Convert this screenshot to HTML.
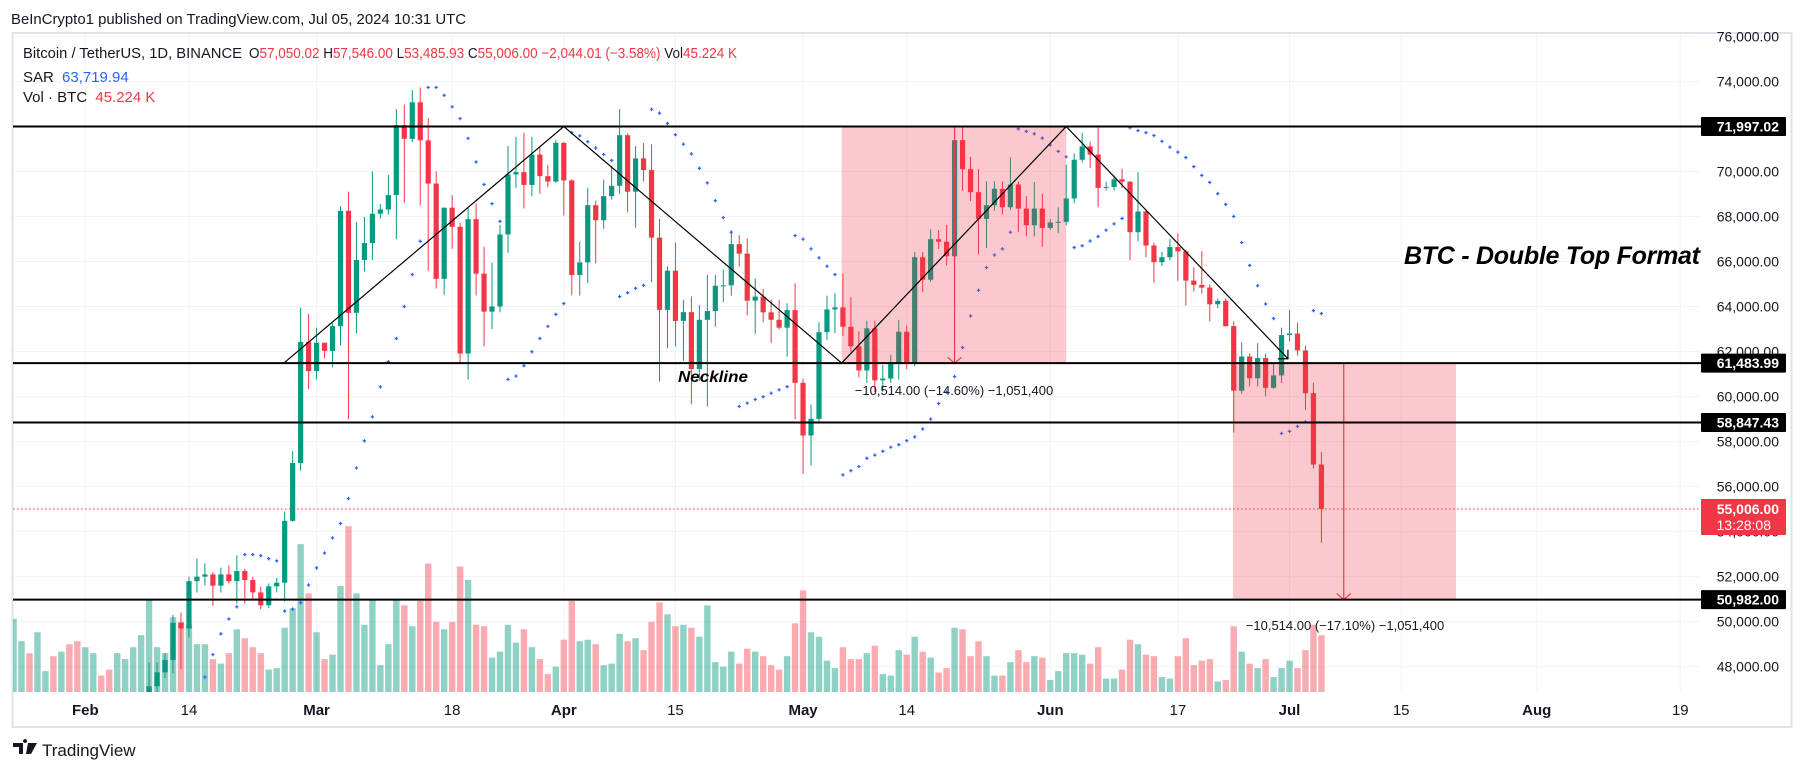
<!DOCTYPE html>
<html><head><meta charset="utf-8"><title>BTC Double Top</title>
<style>
html,body{margin:0;padding:0;background:#fff;width:1805px;height:771px;overflow:hidden;}
svg{display:block;font-family:"Liberation Sans",sans-serif;}
</style></head>
<body>
<svg id="chart" width="1805" height="771" viewBox="0 0 1805 771" xmlns="http://www.w3.org/2000/svg">
  <rect x="0" y="0" width="1805" height="771" fill="#ffffff"/>
  <text x="11" y="24" font-size="15" fill="#131722" textLength="455" lengthAdjust="spacingAndGlyphs">BeInCrypto1 published on TradingView.com, Jul 05, 2024 10:31 UTC</text>
  <rect x="12.5" y="33" width="1779" height="694" fill="none" stroke="#e0e3eb" stroke-width="2"/>
  <defs><clipPath id="plotclip"><rect x="13" y="34" width="1686" height="658"/></clipPath></defs>
  <g id="grid"></g>
  <g id="vol" clip-path="url(#plotclip)"></g>
  <g id="candles" clip-path="url(#plotclip)"></g>
  <g id="sar" clip-path="url(#plotclip)"></g>
  <g id="draw"></g>
  <g id="axis"></g>
  <g id="taxis"></g>
  <g font-size="15">
    <text x="23" y="58" fill="#131722" textLength="219" lengthAdjust="spacingAndGlyphs">Bitcoin / TetherUS, 1D, BINANCE</text>
    <text x="249" y="58" fill="#131722" textLength="488" lengthAdjust="spacingAndGlyphs">O<tspan fill="#f23645">57,050.02</tspan>  H<tspan fill="#f23645">57,546.00</tspan>  L<tspan fill="#f23645">53,485.93</tspan>  C<tspan fill="#f23645">55,006.00</tspan>  <tspan fill="#f23645">−2,044.01 (−3.58%)</tspan>  Vol<tspan fill="#f23645">45.224 K</tspan></text>
    <text x="23" y="82" fill="#131722">SAR <tspan dx="4" fill="#2962ff">63,719.94</tspan></text>
    <text x="23" y="102" fill="#131722">Vol · BTC <tspan dx="4" fill="#f23645">45.224 K</tspan></text>
  </g>
  <g>
    <path d="M13 743 h10 v11 h-4 v-7 h-6 z M25 743 a2 2 0 1 1 0.1 0 z M28 743 h9 l-6 11 h-5 z" fill="#131722"/>
    <text x="42" y="756" font-size="17" fill="#131722">TradingView</text>
  </g>
</svg>
<script>
// ---- data (daily, starting 2024-01-23) ----
const startLabel = "2024-01-23";
const openP = [39500,39900,40080,39930,41800,42120,42030,43300,42940,42580,43080,43200,43010,42580,42700,43090,44340,45290,47130,47750,48300,49950,49700,51800,52000,52100,51600,52100,51800,52250,51850,51300,50730,51570,51730,54480,57050,62430,61130,62390,62030,63130,68250,63720,66070,66820,68120,68310,68950,72060,71450,73070,71380,69460,65230,68390,67540,61910,67880,65460,63770,64000,67200,69870,69970,69400,70750,69790,69550,71270,69600,65400,65960,68500,67830,68900,69360,71610,69100,70580,70060,67060,63850,65590,63360,63750,61220,63410,63800,64920,64940,66770,66350,64260,64440,63740,63410,63060,63840,60610,58270,59010,62860,63870,63960,63100,62230,61160,63030,60720,60800,61480,62880,61500,66190,65190,66990,66880,66230,71390,70100,69080,67890,68500,69230,68410,69420,68350,67610,68350,67490,67730,67760,68800,70520,71110,70750,69270,69310,69650,69540,67300,68220,66710,65970,66190,66640,66450,65150,64960,64840,64100,64250,63130,60260,61780,60810,61710,60390,60940,62730,62800,62050,60150,56980];
const highP = [40000,40500,40300,42200,42200,42800,43300,43800,43700,43300,43500,43400,43100,43500,43400,44400,45600,48200,48200,48600,50300,50400,52000,52800,52600,52200,52400,52500,52950,52350,52000,51550,51700,51950,54900,57570,63950,63670,63060,62400,63250,68460,69100,67760,67980,70000,68550,69840,72770,72960,73620,73730,72370,70010,68400,68940,67720,68400,68580,66650,65950,67630,71130,71540,71720,71540,71080,70280,71390,71300,69650,66880,69270,68700,69640,70250,72770,71690,71130,71260,71200,67890,65790,66840,64300,64440,64070,65400,65400,65640,67340,67170,67020,65240,64780,64300,64300,64140,65030,60800,59650,63300,64480,64590,65460,64410,62900,63370,63370,61400,61860,63410,63150,66420,66420,67430,67390,67630,71960,71960,70650,70100,69570,69570,69550,70620,69550,68900,69530,69000,67890,68400,70300,70800,71720,71320,71940,69550,69820,70120,69580,69970,68320,66850,66430,66990,67260,66520,65740,66450,64990,64360,64360,63340,62410,61920,62370,61900,61440,63060,63840,63260,62270,60610,57530];
const lowP = [38500,39500,39500,39800,41400,41600,41800,42700,42300,41900,42600,42900,42300,42300,42600,42800,44300,45200,46800,47500,47700,47900,49300,51300,51600,50700,51300,51700,50800,50800,50950,50550,50600,51300,50900,54450,56700,60330,60760,61700,61300,62270,59000,62800,65550,66070,67900,68080,66990,68590,71300,68500,65590,64800,64520,66560,61500,60760,64500,62230,63000,63740,66380,69270,68350,68900,69010,69300,69500,68040,64500,64480,65050,65920,67450,68750,69010,68190,67500,69550,65090,60670,62140,62230,61590,59650,60700,59560,63100,64200,64480,65770,63610,62790,63300,62380,62990,61770,59000,56560,56930,58880,62510,62820,62690,62000,60850,60610,60200,60200,60600,60760,61220,61350,64630,65090,66560,65830,66140,69140,68680,66320,66600,68250,68090,68280,67300,67120,67120,66650,67400,67250,67610,68590,70400,70160,68410,69150,69150,69250,66050,66900,66190,65050,65800,66050,65140,64040,64680,64570,63340,63920,63100,58400,60130,60450,60450,60010,60350,60600,62440,61830,59410,56800,53510];
const closeP = [39900,40080,39930,41800,42120,42030,43300,42940,42580,43080,43200,43010,42580,42700,43090,44340,45290,47130,47750,48300,49950,49700,51800,52000,52100,51600,52100,51800,52250,51850,51300,50730,51570,51730,54480,57050,62430,61130,62390,62030,63130,68250,63720,66070,66820,68120,68310,68950,72060,71450,73070,71380,69460,65230,68390,67540,61910,67880,65460,63770,64000,67200,69870,69970,69400,70750,69790,69550,71270,69600,65400,65960,68500,67830,68900,69360,71610,69100,70580,70060,67060,63850,65590,63360,63750,61220,63410,63800,64920,64940,66770,66350,64260,64440,63740,63410,63060,63840,60610,58270,59010,62860,63870,63960,63100,62230,61160,63030,60720,60800,61480,62880,61500,66190,65190,66990,66880,66230,71390,70100,69080,67890,68500,69230,68410,69420,68350,67610,68350,67490,67730,67760,68800,70520,71110,70750,69270,69310,69650,69540,67300,68220,66710,65970,66190,66640,66450,65150,64960,64840,64100,64250,63130,60260,61780,60810,61710,60390,60940,62730,62800,62050,60150,56980,55006];
const volumeK = [49,34,26,40,14,24,27,32,34, 30,26,11,15,26,22,30,38, 62,30,26, 50,47,45,32,32,22,19,26,42,36,30,26,15,16,43,56,99, 66,
 40,22,25,71,111,66,45,62,18,32,62,58,44,61,86,47,42,47,84,75,45,44,23,27,45,33,42,30,22,12,17,
 35,61,34,35,32,18,19,39,34,36,28,47,60,52,44,45,43,37,58,20,17,27,19,29,27,24,18,15,24,46,
 68,40,37,21,16,30,22,22,26,31,12,11,28,25,37,27,23,13,16,43,42,24,34,24,11,11,20,28,20,24,23,
 8,14,26,26,25,19,30,9,9,15,35,32,25,24,10,9,24,36,18,21,22,7,8,44,27,19,16,22,10,16,
 21,16,28,45,38];
const sarP = [null,null,null,null,null,null,null,null,null,null,null,null,null,null,null,null,null,null,null,null,null,null,null,null,
 47540,48540,49460,50120,50660,52980,52980,52930,52800,52700,50470,50560,50840,51630,
 52390,53050,53720,54360,55470,56830,58030,59100,60430,61550,62580,64000,65420,66900,73730,73730,73380,72870,72350,71470,70420,69420,68570,67780,60760,60910,61370,61990,62580,63120,63650,
 64130,71720,71580,71320,71040,70750,70490,64440,64610,64810,64940,72760,72590,72130,71630,71210,70780,70140,69490,68700,67950,67300,59560,59710,59870,59990,60150,60300,60440,67150,
 66990,66560,66160,65790,65420,56520,56710,56890,57260,57400,57570,57750,57860,58040,58210,58560,59000,59690,60200,60890,62180,63580,64720,65730,66290,66560,67300,71890,71780,71670,71480,
 71170,70890,70650,66620,66700,66910,67110,67390,67670,67910,71945,71816,71724,71595,71337,71079,70857,70618,70212,69825,69512,69014,68535,68001,66840,65826,64923,64112,63467,58362,
 58454,58675,58878,63817,63688];
const priceTicks = [48000,50000,52000,54000,56000,58000,60000,62000,64000,66000,68000,70000,72000,74000,76000];
const timeLabels = ["Feb","14","Mar","18","Apr","15","May","14","Jun","17","Jul","15","Aug","19"];
const timeDays = [0,13,29,46,60,74,90,103,121,137,151,165,182,200]; // days since Feb 1
const levelPrices = [71997.02,61483.99,58847.43,50982.00];
const levelLabels = ["71,997.02","61,483.99","58,847.43","50,982.00"];
const zigDays = [24.9,60.0,94.85,123.0,150.8];
const zigPrices = [61483.99,71997.02,61483.99,71997.02,61680];

// ---- scales ----
const NS = "http://www.w3.org/2000/svg";
const FEB1_INDEX = 9;
function xDay(d){ return 85.3 + 7.975*d; }
function xIdx(i){ return xDay(i - FEB1_INDEX); }
function yP(p){ return 126.4 + (72000 - p)*0.022513; }
const VOL_BASE = 692, VOL_PX_PER_K = 1.494;
const PLOT_L = 13, PLOT_R = 1699;
function mk(tag, attrs, parent){ const e=document.createElementNS(NS,tag); for(const k in attrs) e.setAttribute(k,attrs[k]); parent.appendChild(e); return e; }

const grid = document.getElementById('grid');
priceTicks.forEach(p=>{
  const l = mk('line',{x1:PLOT_L,x2:PLOT_R,y1:yP(p),y2:yP(p),stroke:'#f0f3fa','stroke-width':1},grid);
  
  
});
timeDays.forEach(d=>{
  const l = mk('line',{x1:xDay(d),x2:xDay(d),y1:34,y2:692,stroke:'#f0f3fa','stroke-width':1},grid);
  
  
});

// volume
const volG = document.getElementById('vol');
volumeK.forEach((v,i)=>{
  const up = closeP[i] >= openP[i];
  const h = v*VOL_PX_PER_K;
  const r = mk('rect',{x:xIdx(i)-3.2,y:VOL_BASE-h,width:6.4,height:h,fill:up?'rgba(8,153,129,0.45)':'rgba(242,54,69,0.42)'},volG);
  
  
});

// candles
const cG = document.getElementById('candles');
openP.forEach((o,i)=>{
  const c = closeP[i], up = c>=o, col = up?'#089981':'#f23645', x = xIdx(i);
  const g = mk('g',{},cG);
  
  
  mk('line',{x1:x,x2:x,y1:yP(highP[i]),y2:yP(lowP[i]),stroke:col,'stroke-width':1},g);
  const top = yP(Math.max(o,c)), bot = yP(Math.min(o,c));
  mk('rect',{x:x-2.6,y:top,width:5.2,height:Math.max(1,bot-top),fill:col},g);
});

// SAR
const sG = document.getElementById('sar');
sarP.forEach((s,i)=>{
  if(s===null) return;
  const x=xIdx(i), y=yP(s);
  const p = mk('path',{d:`M${x-1.7} ${y}h3.4M${x} ${y-1.7}v3.4`,stroke:'#2962ff','stroke-width':1.2},sG);
  
  
});

// drawings
const dG = document.getElementById('draw');
function box(d1,d2,p1,p2,name,rightX){
  const x1=xDay(d1), x2=rightX!==undefined?rightX:xDay(d2);
  const r = mk('rect',{x:x1,y:yP(p1),width:x2-x1,height:yP(p2)-yP(p1),fill:'rgba(242,54,69,0.27)'},dG);
  
  
  mk('line',{x1:x1,x2:x2,y1:yP(p1),y2:yP(p1),stroke:'#f23645','stroke-width':1},dG);
  mk('line',{x1:x1,x2:x2,y1:yP(p2),y2:yP(p2),stroke:'#f23645','stroke-width':1},dG);
}
box(94.85,123.0,71997.02,61483.99,'measure-box-top');
box(143.9,0,61483.99,50982.0,'measure-box-target',1456);
function arrow(d,p1,p2,name){
  const x=xDay(d), y1=yP(p1), y2=yP(p2);
  const a = mk('path',{d:`M${x} ${y1}V${y2}M${x-7} ${y2-6}L${x} ${y2}L${x+7} ${y2-6}`,stroke:'#f23645','stroke-width':1.2,fill:'none'},dG);
  
  
}
arrow(109,71997.02,61483.99,'measure-arrow-top');
arrow(157.8,61483.99,50982.0,'measure-arrow-target');

levelPrices.forEach((p,i)=>{
  const l = mk('line',{x1:PLOT_L,x2:1701,y1:yP(p),y2:yP(p),stroke:'#000','stroke-width':2},dG);
  
  
});

let zd='';
zigDays.forEach((d,i)=>{ zd += (i?'L':'M')+xDay(d).toFixed(1)+' '+yP(zigPrices[i]).toFixed(1); });
const zig = mk('path',{d:zd,stroke:'#000','stroke-width':1.2,fill:'none'},dG);


{ const xe=xDay(zigDays[4]), ye=yP(zigPrices[4]);
  const ah = mk('path',{d:`M${xe-10} ${ye}H${xe}V${ye-9}`,stroke:'#000','stroke-width':1.2,fill:'none'},dG);
  
   }

function txt(x,y,s,attrs,name,parent){
  const t = mk('text',Object.assign({x:x,y:y},attrs),parent||dG);
  t.textContent=s;
  
  
  return t;
}
txt(954,395,'−10,514.00 (−14.60%) −1,051,400',{'font-size':13,fill:'#131722','text-anchor':'middle'},'measure-label-top');
txt(1345,630,'−10,514.00 (−17.10%) −1,051,400',{'font-size':13,fill:'#131722','text-anchor':'middle'},'measure-label-target');
txt(678,382,'Neckline',{'font-size':16,'font-weight':'bold','font-style':'italic',fill:'#000',textLength:70,lengthAdjust:'spacingAndGlyphs'},'neckline-label');
txt(1404,264,'BTC - Double Top Format',{'font-size':25,'font-weight':'bold','font-style':'italic',fill:'#000',textLength:296,lengthAdjust:'spacing'},'pattern-title');

// red dotted current price
{ const l = mk('line',{x1:PLOT_L,x2:1701,y1:yP(55006),y2:yP(55006),stroke:'#f23645','stroke-width':1,'stroke-dasharray':'1.5 2.5'},dG);
  
   }

// price axis
const ax = document.getElementById('axis');
priceTicks.forEach(p=>{
  txt(1779,yP(p)+5,p.toLocaleString('en-US',{minimumFractionDigits:2}),{'font-size':14,fill:'#131722','text-anchor':'end'},'price-tick-label',ax);
});
levelPrices.forEach((p,i)=>{
  const r = mk('rect',{x:1701,y:yP(p)-9.5,width:85,height:19,fill:'#000',rx:1},ax);
  
  
  txt(1779,yP(p)+5,levelLabels[i],{'font-size':14,fill:'#fff','text-anchor':'end','font-weight':'bold'},'level-price-text',ax);
});
{ const y=yP(55006);
  const r = mk('rect',{x:1701,y:y-10,width:85,height:36,fill:'#f23645',rx:1},ax);
  
  
  txt(1779,y+5,'55,006.00',{'font-size':14,fill:'#fff','text-anchor':'end','font-weight':'bold'},'last-price-text',ax);
  txt(1771,y+21,'13:28:08',{'font-size':14,fill:'#fff','text-anchor':'end'},'countdown-text',ax);
}

// time axis
const tx = document.getElementById('taxis');
timeLabels.forEach((s,i)=>{
  const bold = isNaN(parseInt(s));
  txt(xDay(timeDays[i]),715,s,{'font-size':15,fill:'#131722','text-anchor':'middle','font-weight':bold?'bold':'normal'},'time-tick-label',tx);
});
</script>
</body></html>
